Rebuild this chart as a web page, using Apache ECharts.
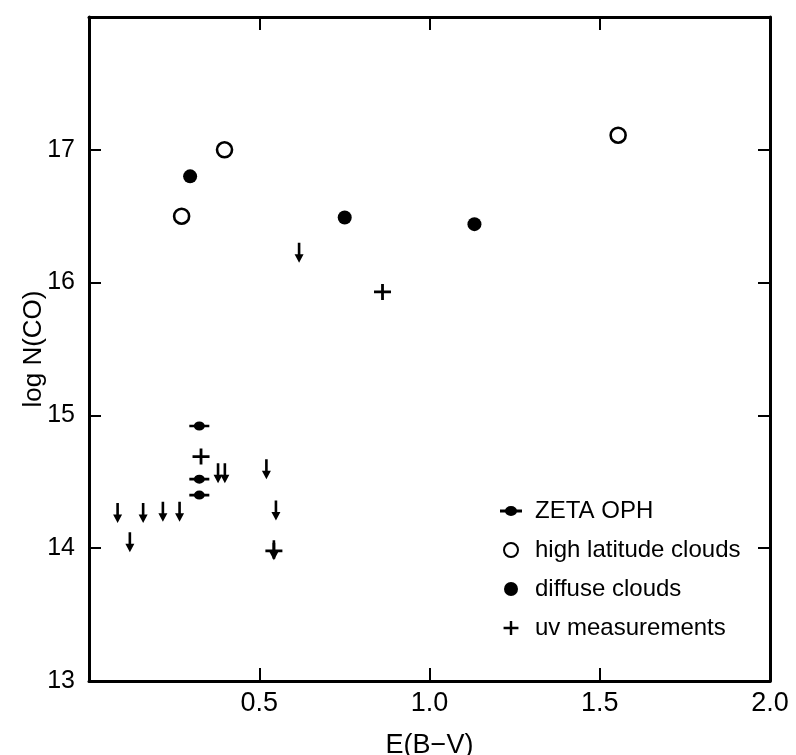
<!DOCTYPE html>
<html><head><meta charset="utf-8">
<script src="https://cdn.jsdelivr.net/npm/echarts@6/dist/echarts.min.js"></script>
<style>html,body{margin:0;padding:0;background:#fff}#c{width:796px;height:755px}</style>
</head><body><div id="c"></div>
<script>
// ---- data ----
const xTickLabels = ['', '0.5', '1.0', '1.5', '2.0'];   // at 0, 0.5, 1.0, 1.5, 2.0
const yTickLabels = ['13', '14', '15', '16', '17', '']; // at 13..18
const zetaOph = [[0.324, 14.92], [0.324, 14.52], [0.324, 14.40]];
const highLatitudeClouds = [[0.272, 16.50], [0.398, 17.00], [1.554, 17.11]];
const diffuseClouds = [[0.297, 16.80], [0.751, 16.49], [1.132, 16.44]];
const uvMeasurements = [[0.862, 15.93], [0.329, 14.69], [0.543, 13.98]];
const upperLimits = [
  [0.084, 14.34], [0.159, 14.34], [0.217, 14.35], [0.266, 14.35], [0.120, 14.12],
  [0.379, 14.64], [0.399, 14.64], [0.521, 14.67], [0.549, 14.36], [0.543, 14.06],
  [0.617, 16.30]
];
const seriesNames = ['ZETA OPH', 'high latitude clouds', 'diffuse clouds', 'uv measurements'];

// ---- styling ----
const FONT = 'Liberation Sans, Arial, sans-serif';
const ZETA_PATH = 'path://M0,3.2H5.5V5.8H0Z M14.5,3.2H20V5.8H14.5Z M10,0A5.5,4.5 0 1 1 10,9A5.5,4.5 0 1 1 10,0Z';
const PLUS_PATH = 'path://M0,6.6H17V9.4H0Z M7.1,0H9.9V16H7.1Z';
const ARROW_PATH = 'path://M3.2,0H5.8V11.5H9L4.5,20L0,11.5H3.2Z';

function line() { return { show: true, onZero: false, lineStyle: { color: '#000', width: 3 } }; }
function tick(len) { return { show: true, inside: true, length: len, lineStyle: { color: '#000', width: 2 } }; }

const chart = echarts.init(document.getElementById('c'), null, { renderer: 'canvas' });
chart.setOption({
  animation: false,
  backgroundColor: '#fff',
  grid: { left: 89, right: 26, top: 17, bottom: 74, containLabel: false, outerBoundsMode: 'none' },
  xAxis: [
    {
      type: 'value', min: 0, max: 2, interval: 0.5, position: 'bottom',
      axisLine: line(), axisTick: tick(13), splitLine: { show: false },
      axisLabel: { color: '#000', fontSize: 27, fontFamily: FONT, margin: 9, inside: false,
        formatter: v => xTickLabels[Math.round(v / 0.5)] },
      name: 'E(B\u2212V)', nameLocation: 'middle', nameGap: 51, nameMoveOverlap: false,
      nameTextStyle: { color: '#000', fontSize: 27, fontFamily: FONT }
    },
    {
      type: 'value', min: 0, max: 2, interval: 0.5, position: 'top',
      axisLine: line(), axisTick: tick(13), splitLine: { show: false }, axisLabel: { show: false }
    }
  ],
  yAxis: [
    {
      type: 'value', min: 13, max: 18, interval: 1, position: 'left',
      axisLine: line(), axisTick: tick(12), splitLine: { show: false },
      axisLabel: { color: '#000', fontSize: 25, fontFamily: FONT, margin: 14, inside: false,
        formatter: v => yTickLabels[Math.round(v - 13)] },
      name: 'log N(CO)', nameLocation: 'middle', nameGap: 42, nameRotate: 90, nameMoveOverlap: false,
      nameTextStyle: { color: '#000', fontSize: 26, fontFamily: FONT }
    },
    {
      type: 'value', min: 13, max: 18, interval: 1, position: 'right',
      axisLine: line(), axisTick: tick(12), splitLine: { show: false },
      axisLabel: { show: false }
    }
  ],
  legend: {
    orient: 'vertical', left: 495, top: 494,
    itemWidth: 22, itemHeight: 14, itemGap: 15,
    symbolKeepAspect: true,
    textStyle: { color: '#000', fontSize: 24, fontFamily: FONT, padding: [0, 0, 0, 8] },
    data: seriesNames
  },
  series: [
    { name: seriesNames[0], type: 'scatter', data: zetaOph, symbol: ZETA_PATH, symbolSize: [20, 9],
      itemStyle: { color: '#000', opacity: 1 }, z: 5 },
    { name: seriesNames[1], type: 'scatter', data: highLatitudeClouds, symbol: 'circle', symbolSize: 15,
      itemStyle: { color: '#fff', borderColor: '#000', borderWidth: 2.6, opacity: 1 }, z: 5 },
    { name: seriesNames[2], type: 'scatter', data: diffuseClouds, symbol: 'circle', symbolSize: 14,
      itemStyle: { color: '#000', opacity: 1 }, z: 5 },
    { name: seriesNames[3], type: 'scatter', data: uvMeasurements, symbol: PLUS_PATH, symbolSize: [17, 16],
      itemStyle: { color: '#000', opacity: 1 }, z: 6 },
    { name: 'upper limits', type: 'scatter', data: upperLimits, symbol: ARROW_PATH, symbolSize: [9, 20],
      symbolOffset: [0, '50%'], itemStyle: { color: '#000', opacity: 1 }, z: 5 }
  ]
});
</script>
</body></html>
